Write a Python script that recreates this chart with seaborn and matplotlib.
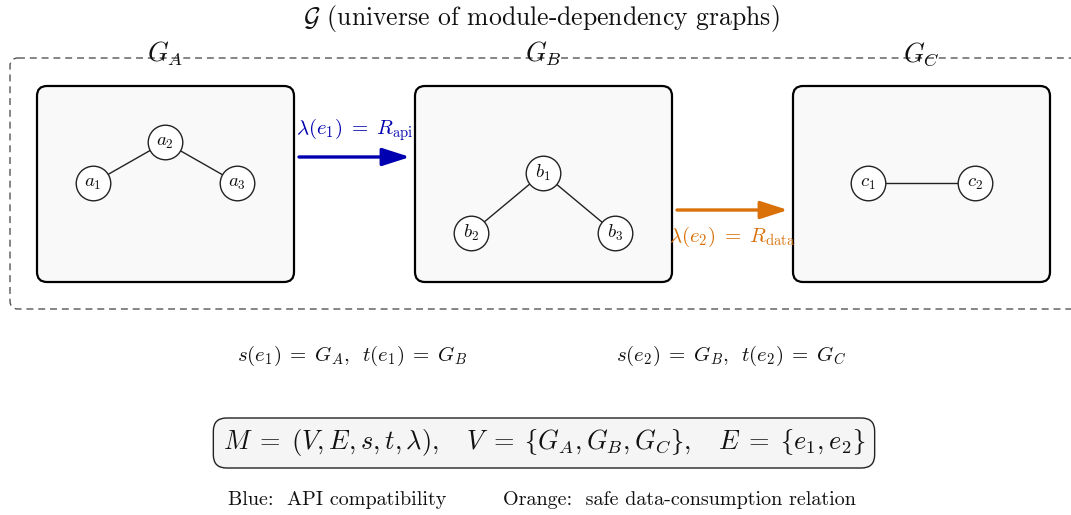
import numpy as np
import pandas as pd
import seaborn as sns
import matplotlib.pyplot as plt
from matplotlib.patches import FancyBboxPatch

# данные диаграммы
graph_names = ["G_A", "G_B", "G_C"]
graph_nodes = [["a_2", "a_1", "a_3"], ["b_1", "b_2", "b_3"], ["c_1", "c_2"]]
graph_edges = [[(0, 1), (0, 2)], [(0, 1), (0, 2)], [(0, 1)]]
morphism_labels = [r"$\lambda(e_1) \;=\; R_{\mathrm{api}}$", r"$\lambda(e_2) \;=\; R_{\mathrm{data}}$"]
st_labels = [r"$s(e_1) \;=\; G_A,\ \, t(e_1) \;=\; G_B$", r"$s(e_2) \;=\; G_B,\ \, t(e_2) \;=\; G_C$"]
title_text = r"$\mathcal{G}$ (universe of module-dependency graphs)"
formula_text = (r"$M \;=\; (V, E, s, t, \lambda),\quad V \;=\; \lbrace G_A, G_B, G_C \rbrace,"
                r"\quad E \;=\; \lbrace e_1, e_2 \rbrace$")
legend_text = ["Blue:  API compatibility", "Orange:  safe data-consumption relation"]

# раскладка (в пикселях картинки)
box_left = [37, 415, 793]
box_top, box_w, box_h = 86, 257, 196
node_xy = [[(165, 142), (93, 183), (237, 183)],
           [(543, 173), (471, 233), (615, 233)],
           [(868, 183), (975, 183)]]
arrow_y = [157, 210]
colors = ["#0000b0", "#d97008"]

sns.set_theme(style="white")
plt.rcParams['font.family'] = ['cmr10', 'DejaVu Serif']
plt.rcParams['mathtext.fontset'] = 'cm'
plt.rcParams['axes.formatter.use_mathtext'] = True

fig = plt.figure(figsize=(10.71, 5.15), dpi=100)
ax = fig.add_axes([0, 0, 1, 1])
ax.set_xlim(0, 1071)
ax.set_ylim(515, 0)
ax.axis("off")

# заголовок
ax.text(541, 18, title_text, ha="center", va="center", fontsize=18.5, color="#111111")

# внешняя пунктирная рамка
outer = FancyBboxPatch((10, 58), 1070, 251, boxstyle="round,pad=0,rounding_size=8",
                       fill=False, ec="#555555", lw=1.0, ls=(0, (5, 3.5)), zorder=1)
ax.add_patch(outer)

for i, name in enumerate(graph_names):
    x0 = box_left[i]
    box = FancyBboxPatch((x0, box_top), box_w, box_h, boxstyle="round,pad=0,rounding_size=10",
                         fc="#f9f9f9", ec="black", lw=1.6, zorder=2)
    ax.add_patch(box)
    ax.text(x0 + box_w / 2, 54, "$" + name + "$", ha="center", va="center", fontsize=19,
            color="#111111", zorder=3)

    pts = pd.DataFrame(node_xy[i], columns=["x", "y"])
    pts["label"] = graph_nodes[i]
    for a, b in graph_edges[i]:
        ax.plot([pts.x[a], pts.x[b]], [pts.y[a], pts.y[b]], color="#222222", lw=1.0, zorder=3)
    sns.scatterplot(data=pts, x="x", y="y", s=620, color="white", edgecolor="#222222",
                    linewidth=1.0, zorder=4, ax=ax, legend=False)
    for _, r in pts.iterrows():
        ax.text(r.x, r.y, "$" + r.label + "$", ha="center", va="center", fontsize=13.5,
                color="#111111", zorder=5)

# стрелки между графами
arrow_x = [(299, 410), (677, 788)]
label_y = [130, 237]
for k in range(2):
    ax.annotate("", xy=(arrow_x[k][1], arrow_y[k]), xytext=(arrow_x[k][0], arrow_y[k]),
                arrowprops=dict(arrowstyle="-|>,head_length=1.4,head_width=0.45", color=colors[k],
                                lw=2.4, shrinkA=0, shrinkB=0), zorder=6)
    ax.text(sum(arrow_x[k]) / 2, label_y[k], morphism_labels[k], ha="center", va="center",
            fontsize=15, color=colors[k], zorder=6)

# s и t
ax.text(352, 356, st_labels[0], ha="center", va="center", fontsize=15, color="#111111")
ax.text(731, 356, st_labels[1], ha="center", va="center", fontsize=15, color="#111111")

# формула
ax.text(544, 443, formula_text, ha="center", va="center", fontsize=19, color="#111111",
        bbox=dict(boxstyle="round,pad=0.36,rounding_size=0.5", fc="#f5f5f5", ec="#222222", lw=1.0))

# подписи цветов
ax.text(337, 500, legend_text[0], ha="center", va="center", fontsize=14.5, color="#111111")
ax.text(679, 500, legend_text[1], ha="center", va="center", fontsize=14.5, color="#111111")

fig.savefig("out.png", dpi=100)
